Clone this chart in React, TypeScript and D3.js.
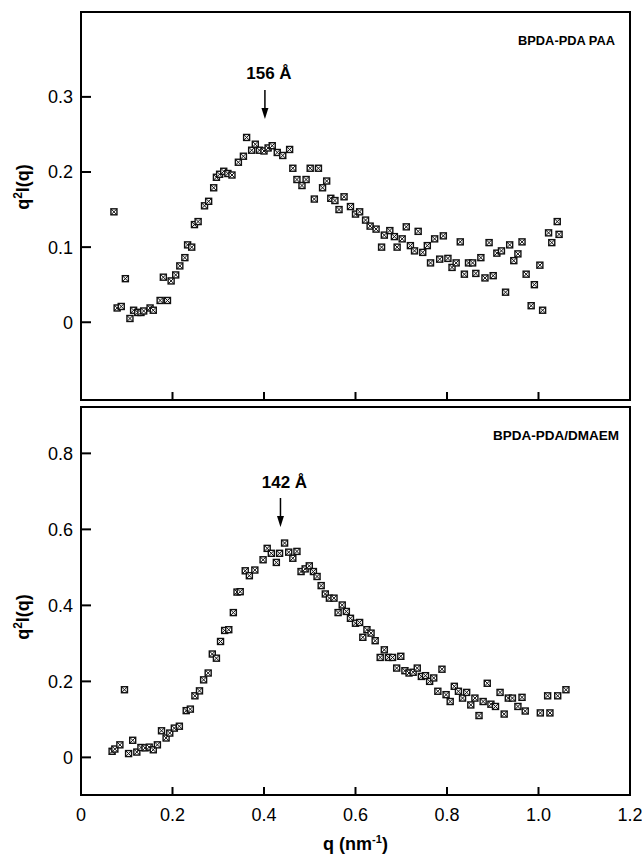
import React from "react";
import * as d3 from "d3";

// ---------- data ----------
const topQ = [0.072,0.079,0.088,0.097,0.107,0.115,0.124,0.131,0.137,0.151,0.158,0.173,0.189,0.180,0.197,0.207,0.216,0.227,0.233,0.242,0.248,0.256,0.270,0.279,0.290,0.296,0.303,0.312,0.321,0.330,0.344,0.355,0.362,0.373,0.381,0.390,0.400,0.409,0.418,0.429,0.441,0.456,0.463,0.472,0.483,0.492,0.501,0.510,0.519,0.528,0.537,0.546,0.555,0.564,0.575,0.589,0.600,0.609,0.622,0.632,0.645,0.657,0.663,0.675,0.685,0.691,0.702,0.711,0.720,0.729,0.737,0.747,0.757,0.764,0.773,0.784,0.792,0.802,0.811,0.820,0.829,0.838,0.847,0.856,0.863,0.874,0.883,0.892,0.901,0.909,0.919,0.928,0.937,0.946,0.955,0.964,0.973,0.984,0.991,1.003,1.009,1.022,1.029,1.041,1.045];
const topI = [0.147,0.019,0.021,0.058,0.005,0.016,0.013,0.013,0.015,0.019,0.016,0.029,0.029,0.060,0.055,0.063,0.075,0.086,0.103,0.100,0.130,0.134,0.155,0.161,0.179,0.193,0.197,0.201,0.198,0.196,0.213,0.221,0.246,0.229,0.237,0.229,0.228,0.232,0.235,0.226,0.222,0.230,0.205,0.190,0.182,0.190,0.205,0.164,0.205,0.179,0.188,0.165,0.162,0.150,0.167,0.154,0.144,0.147,0.136,0.128,0.124,0.100,0.116,0.122,0.114,0.100,0.111,0.127,0.102,0.095,0.121,0.093,0.102,0.079,0.111,0.084,0.115,0.085,0.073,0.079,0.107,0.064,0.079,0.079,0.065,0.086,0.059,0.106,0.062,0.092,0.095,0.040,0.103,0.082,0.091,0.107,0.064,0.022,0.050,0.076,0.016,0.119,0.106,0.134,0.117];

const botQ = [0.068,0.074,0.085,0.095,0.104,0.113,0.122,0.131,0.140,0.149,0.158,0.167,0.176,0.186,0.194,0.204,0.215,0.230,0.239,0.249,0.259,0.268,0.278,0.287,0.296,0.305,0.314,0.323,0.333,0.341,0.348,0.359,0.368,0.380,0.398,0.407,0.416,0.427,0.434,0.445,0.454,0.463,0.472,0.481,0.490,0.499,0.508,0.516,0.525,0.534,0.543,0.553,0.562,0.571,0.580,0.589,0.600,0.609,0.616,0.625,0.634,0.643,0.654,0.663,0.672,0.681,0.699,0.690,0.708,0.717,0.726,0.735,0.744,0.753,0.762,0.771,0.789,0.780,0.798,0.807,0.816,0.825,0.834,0.843,0.852,0.861,0.870,0.879,0.888,0.896,0.906,0.916,0.925,0.934,0.943,0.955,0.964,0.971,1.004,1.025,1.020,1.042,1.060];
const botI = [0.016,0.022,0.033,0.178,0.010,0.045,0.014,0.026,0.025,0.027,0.020,0.033,0.070,0.051,0.064,0.077,0.082,0.123,0.127,0.162,0.175,0.204,0.222,0.272,0.261,0.305,0.334,0.336,0.381,0.435,0.436,0.491,0.478,0.493,0.520,0.550,0.537,0.513,0.537,0.564,0.540,0.524,0.542,0.489,0.496,0.504,0.489,0.476,0.452,0.430,0.419,0.419,0.381,0.401,0.384,0.366,0.353,0.355,0.316,0.336,0.327,0.307,0.263,0.283,0.263,0.263,0.266,0.235,0.228,0.222,0.224,0.235,0.213,0.215,0.200,0.209,0.232,0.174,0.165,0.147,0.187,0.174,0.156,0.171,0.138,0.156,0.110,0.147,0.195,0.140,0.134,0.171,0.114,0.156,0.156,0.134,0.158,0.122,0.117,0.117,0.162,0.162,0.178];

const xTicks = [0, 0.2, 0.4, 0.6, 0.8, 1.0, 1.2];
const xTickLabels = ["0", "0.2", "0.4", "0.6", "0.8", "1.0", "1.2"];
const topYTicks = [0, 0.1, 0.2, 0.3];
const topYTickLabels = ["0", "0.1", "0.2", "0.3"];
const botYTicks = [0, 0.2, 0.4, 0.6, 0.8];
const botYTickLabels = ["0", "0.2", "0.4", "0.6", "0.8"];

const topLabel = "BPDA-PDA PAA";
const botLabel = "BPDA-PDA/DMAEM";
const topPeakQ = 0.402;
const topPeakText = "156 Å";
const botPeakQ = 0.436;
const botPeakText = "142 Å";

// ---------- layout ----------
const W = 642, H = 856;
const LEFT = 81, RIGHT = 630;
const FONT = "'Liberation Sans', Arial, Helvetica, sans-serif";

const x = d3.scaleLinear().domain([0, 1.2]).range([LEFT, RIGHT]);
const yTop = d3.scaleLinear().domain([-0.1035, 0.413]).range([400, 12]);
const yBot = d3.scaleLinear().domain([-0.099, 0.922]).range([795, 407]);

function Marker({ cx, cy }: { cx: number; cy: number }) {
  const s = 3;
  return (
    <g>
      <rect x={cx - s} y={cy - s} width={2 * s} height={2 * s} fill="white" stroke="#111" strokeWidth={1.4} />
      <path d={`M${cx - s},${cy - s}L${cx + s},${cy + s}M${cx + s},${cy - s}L${cx - s},${cy + s}`} stroke="#111" strokeWidth={1} />
    </g>
  );
}

function Panel({
  y, qs, vals, yTicks, yTickLabels, label, labelEnd, labelY, labelLen,
  peakQ, peakText, textY, arrowTop, arrowBottom, titleY, showXLabels,
}: any) {
  const [y0, y1] = y.range();
  const bottom = y0, top = y1;
  return (
    <g>
      <rect x={LEFT} y={top} width={RIGHT - LEFT} height={bottom - top} fill="none" stroke="#000" strokeWidth={2} />
      {yTicks.map((t: number, i: number) => (
        <g key={"yt" + i}>
          <line x1={LEFT} x2={LEFT + 10} y1={y(t)} y2={y(t)} stroke="#000" strokeWidth={2} />
          <text x={73} y={y(t)} dy="0.36em" textAnchor="end" fontSize={18} fontFamily={FONT} fill="#000">
            {yTickLabels[i]}
          </text>
        </g>
      ))}
      {xTicks.slice(1, -1).map((t: number, i: number) => (
        <line key={"xt" + i} x1={x(t)} x2={x(t)} y1={bottom} y2={bottom - 8} stroke="#000" strokeWidth={2} />
      ))}
      {showXLabels &&
        xTicks.map((t: number, i: number) => (
          <text key={"xl" + i} x={x(t)} y={821} textAnchor="middle" fontSize={18} fontFamily={FONT} fill="#000">
            {xTickLabels[i]}
          </text>
        ))}
      <text transform={`translate(29,${titleY}) rotate(-90)`} textAnchor="middle" fontSize={18} fontWeight="bold" fontFamily={FONT} fill="#000">
        q<tspan fontSize={12} dy={-7}>2</tspan><tspan dy={7}>I(q)</tspan>
      </text>
      <text x={labelEnd} y={labelY} textAnchor="end" fontSize={12} fontWeight="bold" fontFamily={FONT} fill="#000"
        textLength={labelLen} lengthAdjust="spacingAndGlyphs">
        {label}
      </text>
      <text x={x(peakQ) + 4} y={textY} textAnchor="middle" fontSize={17} fontWeight="bold" fontFamily={FONT} fill="#000">
        {peakText}
      </text>
      <line x1={x(peakQ)} x2={x(peakQ)} y1={arrowTop} y2={arrowBottom - 9} stroke="#000" strokeWidth={1.5} />
      <path d={`M${x(peakQ) - 3.5},${arrowBottom - 11}L${x(peakQ) + 3.5},${arrowBottom - 11}L${x(peakQ)},${arrowBottom}Z`} fill="#000" />
      {qs.map((q: number, i: number) => (
        <Marker key={"m" + i} cx={x(q)} cy={y(vals[i])} />
      ))}
    </g>
  );
}

export default function App() {
  return (
    <svg width={W} height={H} style={{ position: "absolute", left: 0, top: 0, background: "#fff" }}>
      <rect x={0} y={0} width={W} height={H} fill="#fff" />
      <Panel
        y={yTop} qs={topQ} vals={topI} yTicks={topYTicks} yTickLabels={topYTickLabels}
        label={topLabel} labelEnd={615} labelY={45} labelLen={97}
        peakQ={topPeakQ} peakText={topPeakText} textY={79} arrowTop={90} arrowBottom={119}
        titleY={187} showXLabels={false}
      />
      <Panel
        y={yBot} qs={botQ} vals={botI} yTicks={botYTicks} yTickLabels={botYTickLabels}
        label={botLabel} labelEnd={619} labelY={440} labelLen={126}
        peakQ={botPeakQ} peakText={botPeakText} textY={488} arrowTop={498} arrowBottom={527}
        titleY={617} showXLabels={true}
      />
      <text x={(LEFT + RIGHT) / 2} y={850} textAnchor="middle" fontSize={18} fontWeight="bold" fontFamily={FONT} fill="#000">
        q (nm<tspan fontSize={11} dy={-7}>-1</tspan><tspan dy={7}>)</tspan>
      </text>
    </svg>
  );
}
